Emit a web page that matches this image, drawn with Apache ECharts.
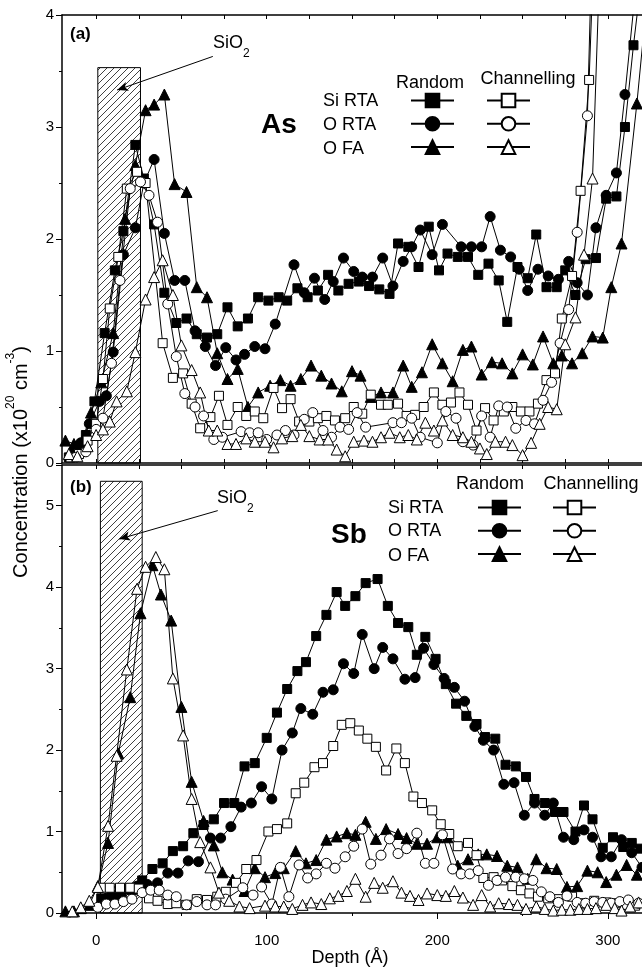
<!DOCTYPE html>
<html>
<head>
<meta charset="utf-8">
<script src="https://cdn.jsdelivr.net/npm/echarts@6/dist/echarts.min.js"></script>
<style>
  html, body { margin: 0; padding: 0; background: #fff; }
  #chart_main { width: 642px; height: 972px; }
</style>
</head>
<body>
<div id="chart_main"></div>
<script>
// ---- data: [depth (Å), concentration (x10^20 cm^-3)] ----
// (a) As
var asSiRtaRandom = [[-16,0.05],[-11,0.15],[-6,0.25],[-1,0.55],[5,1.16],[11,1.72],[16,2.07],[23,2.84],[28,2.54],[34,2.13],[40,1.52],[47,1.25],[53,1.29],[59,1.15],[65,1.12],[71,1.15],[77,1.39],[83,1.22],[89,1.29],[95,1.48],[101,1.45],[107,1.48],[112,1.45],[118,1.56],[124,1.48],[130,1.54],[136,1.68],[142,1.54],[148,1.60],[154,1.62],[160,1.58],[166,1.55],[172,1.51],[177,1.96],[183,1.93],[189,1.75],[195,2.11],[201,1.72],[206,1.87],[212,1.84],[218,1.84],[224,1.68],[230,1.78],[236,1.63],[241,1.26],[247,1.75],[253,1.65],[258,2.04],[264,1.57],[270,1.57],[275,1.72],[281,1.50],[287,1.82],[293,1.83],[299,2.36],[305,2.38],[310,3.0],[315,3.73],[321,4.5]];
var asORtaRandom = [[-14,0.08],[-9,0.18],[-4,0.35],[2,0.55],[6,0.6],[10,0.99],[16,1.86],[23,2.1],[28,2.5],[34,2.71],[40,2.05],[46,1.63],[52,1.63],[58,1.18],[64,1.04],[70,0.87],[76,1.03],[82,0.92],[87,0.97],[93,1.04],[99,1.02],[105,1.24],[116,1.77],[122,1.52],[128,1.65],[134,1.46],[139,1.62],[145,1.83],[151,1.71],[156,1.66],[162,1.66],[168,1.83],[174,1.58],[180,1.80],[185,1.93],[190,2.08],[197,1.86],[203,2.13],[214,1.93],[220,1.93],[226,1.93],[231,2.2],[237,1.90],[243,1.84],[248,1.73],[253,1.54],[259,1.73],[265,1.67],[271,1.64],[277,1.80],[282,1.61],[288,1.5],[293,2.1],[299,2.39],[305,2.59],[310,3.29],[316,4.2]];
var asOFaRandom = [[-18,0.2],[-13,0.17],[-8,0.2],[-3,0.45],[3,0.72],[10,1.16],[17,2.18],[23,2.66],[29,3.15],[34,3.2],[40,3.29],[46,2.49],[53,2.42],[59,1.57],[65,1.48],[71,0.98],[77,0.75],[83,0.84],[89,0.5],[95,0.63],[102,0.69],[108,0.74],[114,0.69],[120,0.75],[126,0.87],[132,0.78],[138,0.71],[144,0.64],[150,0.82],[155,0.78],[161,0.59],[167,0.63],[174,0.63],[180,0.87],[185,0.68],[191,0.81],[197,1.06],[203,0.89],[209,0.73],[215,1.01],[220,1.04],[226,0.79],[232,0.90],[238,0.89],[244,0.80],[250,0.97],[256,0.88],[262,1.13],[268,0.89],[273,0.96],[279,0.89],[285,0.98],[291,1.13],[297,1.12],[302,1.57],[308,1.96],[317,3.21],[322,4.0]];
var asSiRtaChan = [[-15,0.05],[-10,0.08],[-5,0.2],[0,0.35],[4,0.75],[8,1.38],[13,1.84],[18,2.45],[24,2.6],[29,2.5],[39,1.07],[45,0.76],[51,0.80],[56,0.53],[61,0.31],[67,0.41],[72,0.60],[77,0.34],[83,0.50],[88,0.42],[93,0.46],[98,0.40],[104,0.67],[109,0.49],[114,0.57],[119,0.37],[125,0.37],[130,0.40],[135,0.42],[140,0.38],[146,0.40],[151,0.50],[156,0.44],[161,0.61],[167,0.52],[171,0.52],[177,0.53],[182,0.42],[187,0.43],[192,0.50],[198,0.63],[203,0.52],[208,0.54],[213,0.63],[218,0.52],[223,0.29],[228,0.49],[233,0.38],[239,0.46],[244,0.50],[249,0.46],[254,0.46],[259,0.53],[264,0.74],[269,0.80],[273,1.29],[279,1.67],[284,2.43],[289,3.42],[294,5.5]];
var asORtaChan = [[-12,0.05],[-6,0.1],[0,0.3],[4,0.4],[9,0.89],[14,1.63],[20,2.45],[26,2.51],[31,2.39],[36,2.15],[42,1.42],[47,0.95],[52,0.62],[58,0.50],[63,0.42],[69,0.21],[74,0.23],[85,0.28],[90,0.27],[95,0.27],[100,0.21],[106,0.25],[111,0.29],[116,0.25],[122,0.39],[127,0.45],[133,0.29],[138,0.23],[143,0.32],[148,0.30],[153,0.45],[158,0.32],[174,0.36],[179,0.36],[185,0.40],[190,0.23],[200,0.18],[205,0.46],[211,0.40],[215,0.19],[221,0.16],[226,0.42],[231,0.23],[236,0.51],[241,0.50],[246,0.31],[252,0.38],[257,0.35],[262,0.56],[267,0.72],[272,1.07],[277,1.37],[282,2.06],[288,3.1],[291,4.8]];
var asOFaChan = [[-16,0.08],[-11,0.06],[-5,0.15],[0,0.25],[4,0.3],[8,0.37],[12,0.55],[18,0.64],[23,0.99],[29,1.46],[34,1.66],[39,1.81],[45,1.5],[50,1.05],[56,0.83],[61,0.63],[66,0.29],[71,0.29],[77,0.17],[82,0.17],[88,0.22],[93,0.19],[99,0.19],[104,0.14],[109,0.22],[115,0.24],[120,0.34],[125,0.24],[131,0.21],[136,0.21],[141,0.12],[146,0.06],[151,0.19],[157,0.20],[162,0.19],[167,0.23],[172,0.27],[178,0.23],[183,0.25],[188,0.21],[193,0.36],[198,0.29],[203,0.38],[209,0.25],[215,0.23],[220,0.19],[225,0.13],[229,0.08],[234,0.19],[240,0.19],[244,0.16],[250,0.07],[255,0.18],[260,0.35],[265,0.50],[270,0.48],[275,1.06],[281,1.30],[286,1.86],[291,2.54],[296,4.8]];

// (b) Sb
var sbSiRtaRandom = [[3,0.18],[9,0.20],[15,0.22],[21,0.28],[27,0.40],[33,0.54],[39,0.61],[45,0.76],[51,0.82],[57,0.98],[63,1.08],[69,1.15],[75,1.35],[81,1.35],[87,1.80],[93,1.84],[100,2.15],[106,2.46],[112,2.75],[118,2.97],[123,3.08],[129,3.40],[135,3.66],[141,3.94],[146,3.77],[152,3.89],[158,4.05],[165,4.10],[171,3.77],[177,3.56],[183,3.51],[188,3.17],[193,3.39],[199,3.12],[205,2.81],[211,2.57],[217,2.42],[223,2.32],[228,2.16],[234,2.14],[240,1.82],[246,1.80],[252,1.67],[257,1.40],[263,1.35],[269,1.24],[274,1.24],[281,1.0],[286,1.32],[291,1.15],[297,0.80],[303,0.93],[309,0.81],[314,0.86],[319,0.79]];
var sbORtaRandom = [[6,0.18],[12,0.22],[18,0.30],[24,0.33],[30,0.35],[36,0.37],[42,0.49],[48,0.49],[54,0.64],[60,0.63],[67,0.92],[73,0.92],[79,1.06],[85,1.30],[91,1.35],[97,1.55],[103,1.40],[109,2.0],[115,2.21],[120,2.51],[127,2.44],[133,2.71],[139,2.74],[145,3.06],[151,2.94],[156,3.42],[163,3.0],[168,3.26],[174,3.12],[181,2.87],[187,2.89],[192,3.25],[198,3.05],[204,2.88],[210,2.77],[216,2.6],[222,2.29],[227,2.12],[233,2.0],[239,1.58],[245,1.60],[251,1.20],[257,1.35],[263,1.2],[268,1.35],[274,0.93],[280,0.9],[286,1.02],[291,0.93],[296,0.69],[302,0.69],[308,0.9],[314,0.74],[320,0.56]];
var sbOFaRandom = [[-18,0.02],[-13,0.02],[-9,0.06],[-4,0.1],[1,0.33],[7,0.86],[13,1.96],[20,2.65],[26,3.68],[33,4.27],[38,3.91],[44,3.59],[50,2.53],[56,1.61],[63,1.13],[69,0.83],[74,0.50],[80,0.41],[87,0.27],[93,0.55],[99,0.44],[105,0.49],[110,0.55],[117,0.76],[123,0.61],[129,0.65],[135,0.90],[141,0.94],[147,0.98],[152,0.96],[158,1.12],[164,0.91],[170,1.03],[177,0.97],[182,0.92],[188,0.85],[194,0.85],[200,0.93],[206,0.93],[212,0.58],[218,0.66],[224,0.72],[229,0.72],[235,0.70],[241,0.58],[247,0.56],[253,0.42],[258,0.66],[264,0.55],[270,0.54],[276,0.32],[282,0.33],[288,0.52],[294,0.50],[299,0.38],[305,0.47],[311,0.59],[317,0.47]];
var sbSiRtaChan = [[3,0.31],[8,0.31],[14,0.31],[20,0.31],[25,0.3],[31,0.18],[36,0.15],[42,0.11],[47,0.12],[53,0.10],[59,0.17],[65,0.16],[71,0.20],[76,0.26],[82,0.37],[88,0.54],[94,0.65],[101,1.0],[106,1.03],[112,1.10],[117,1.47],[122,1.60],[128,1.79],[133,1.84],[139,2.05],[144,2.31],[149,2.33],[154,2.24],[159,2.14],[164,2.04],[170,1.75],[176,2.02],[181,1.84],[186,1.43],[191,1.35],[197,1.26],[202,1.09],[207,0.97],[212,0.82],[218,0.86],[223,0.71],[227,0.43],[233,0.44],[238,0.40],[244,0.33],[249,0.28],[254,0.24],[259,0.20],[265,0.18],[271,0.17],[279,0.20],[285,0.12],[292,0.15],[299,0.13],[305,0.12],[311,0.1],[316,0.09]];
var sbORtaChan = [[1,0.07],[6,0.11],[11,0.11],[16,0.14],[21,0.17],[27,0.25],[32,0.28],[37,0.28],[42,0.22],[47,0.20],[53,0.10],[59,0.14],[65,0.10],[70,0.10],[76,0.17],[86,0.31],[92,0.22],[97,0.32],[103,0.11],[108,0.56],[113,0.20],[119,0.59],[124,0.43],[129,0.48],[135,0.61],[140,0.55],[146,0.69],[151,0.82],[156,1.03],[161,0.60],[167,0.71],[172,0.91],[177,0.73],[182,0.79],[188,0.98],[193,0.61],[198,0.61],[203,0.96],[209,0.54],[214,0.48],[219,0.48],[224,0.52],[230,0.34],[235,0.40],[240,0.44],[246,0.44],[251,0.42],[256,0.40],[261,0.26],[266,0.20],[271,0.13],[276,0.21],[282,0.13],[287,0.12],[292,0.14],[297,0.13],[302,0.12],[307,0.14],[312,0.16],[318,0.12]];
var sbOFaChan = [[-14,0.02],[-9,0.07],[-4,0.15],[1,0.32],[7,1.07],[12,1.93],[18,2.99],[24,3.98],[29,4.25],[35,4.37],[40,4.22],[45,2.88],[51,2.18],[56,1.40],[61,0.87],[67,0.56],[72,0.25],[78,0.15],[84,0.08],[90,0.06],[99,0.09],[105,0.08],[110,0.08],[115,0.05],[121,0.10],[126,0.13],[132,0.11],[137,0.18],[142,0.21],[147,0.27],[152,0.42],[158,0.20],[163,0.37],[168,0.31],[174,0.39],[179,0.25],[184,0.21],[189,0.16],[194,0.24],[200,0.22],[205,0.21],[210,0.27],[215,0.19],[221,0.10],[226,0.22],[231,0.08],[236,0.12],[242,0.11],[247,0.10],[252,0.05],[258,0.08],[263,0.05],[268,0.03],[273,0.04],[278,0.04],[283,0.05],[288,0.05],[293,0.06],[299,0.10],[304,0.06],[308,0.03],[313,0.08],[318,0.13]];

// SiO2 layer: [from depth, to depth, height]
var sio2Top = [1, 26, 3.53];
var sio2Bottom = [2.5, 27, 5.3];
// arrows from the SiO2 label into the layer: [[x0, y0], [x1, y1]]
var arrowTop = [[12.3, 3.33], [68.4, 3.63]];
var arrowBottom = [[13.5, 4.59], [71.3, 4.94]];

var seriesNames = ['Si RTA', 'O RTA', 'O FA'];
var chanNames = ['Si RTA channelling', 'O RTA channelling', 'O FA channelling'];
var xLabels = [0, 100, 200, 300];

var FONT = '"Liberation Sans", Arial, sans-serif';

// hatch pattern for the oxide layer
var hatchCanvas = document.createElement('canvas');
hatchCanvas.width = 7;
hatchCanvas.height = 7;
var hctx = hatchCanvas.getContext('2d');
hctx.strokeStyle = '#111';
hctx.lineWidth = 0.8;
hctx.beginPath();
hctx.moveTo(0, 7); hctx.lineTo(7, 0);
hctx.moveTo(-2, 2); hctx.lineTo(2, -2);
hctx.moveTo(5, 9); hctx.lineTo(9, 5);
hctx.stroke();
var hatch = {image: hatchCanvas, repeat: 'repeat'};

function profile(name, data, symbol, size, filled, panel) {
    return {
        name: name,
        type: 'line',
        data: data,
        xAxisIndex: panel === 0 ? 0 : 2,
        yAxisIndex: panel,
        symbol: symbol,
        symbolSize: size,
        showSymbol: true,
        showAllSymbol: true,
        lineStyle: {color: '#000', width: 1},
        itemStyle: {color: filled ? '#000' : '#fff', borderColor: '#000', borderWidth: 1},
        emphasis: {disabled: true},
        animation: false,
        z: 3
    };
}

function oxide(layer, arrow, panel) {
    return {
        type: 'custom',
        xAxisIndex: panel === 0 ? 0 : 2,
        yAxisIndex: panel,
        data: [layer],
        z: 1,
        silent: true,
        renderItem: function (params, api) {
            var p0 = api.coord([api.value(0), api.value(2)]);
            var p1 = api.coord([api.value(1), 0]);
            return {
                type: 'rect',
                shape: {x: p0[0], y: p0[1], width: p1[0] - p0[0], height: p1[1] - p0[1]},
                style: {fill: hatch, stroke: '#000', lineWidth: 1}
            };
        },
        markLine: {
            silent: true,
            animation: false,
            symbol: ['arrow', 'none'],
            symbolSize: [7, 11],
            label: {show: false},
            lineStyle: {color: '#000', width: 1, type: 'solid'},
            data: [[{coord: arrow[0]}, {coord: arrow[1]}]]
        }
    };
}

function xAxisSet(grid, labels) {
    var base = {gridIndex: grid, type: 'value', min: -20, max: 320, splitLine: {show: false}};
    var lineStyle = {color: '#000', width: 1.5};
    var quarter = [0, 25, 50, 75, 100, 125, 150, 175, 200, 225, 250, 275, 300];
    var list = [];
    // bottom edge
    list.push(Object.assign({}, base, {
        position: 'bottom',
        axisLine: {show: true, onZero: false, lineStyle: lineStyle},
        axisTick: labels ? {show: true, inside: false, length: 6, customValues: xLabels, lineStyle: {color: '#000'}}
                         : {show: true, inside: true, length: 4, customValues: quarter, lineStyle: {color: '#000'}},
        axisLabel: labels ? {show: true, customValues: xLabels, color: '#000', fontSize: 15, fontFamily: FONT, margin: 20}
                          : {show: false}
    }));
    // top edge
    list.push(Object.assign({}, base, {
        position: 'top',
        axisLine: {show: true, onZero: false, lineStyle: lineStyle},
        axisTick: {show: true, inside: true, length: 4, customValues: quarter, lineStyle: {color: '#000'}},
        axisLabel: {show: false}
    }));
    if (labels) {
        list.push(Object.assign({}, base, {
            position: 'bottom',
            axisLine: {show: false},
            axisTick: {show: true, inside: false, length: 3, customValues: [50, 150, 250], lineStyle: {color: '#000'}},
            axisLabel: {show: false}
        }));
    }
    return list;
}

function yAxisFor(grid, max) {
    return {
        gridIndex: grid, type: 'value', min: 0, max: max, interval: 1,
        axisLine: {show: true, onZero: false, lineStyle: {color: '#000', width: 1.5}},
        axisTick: {show: true, inside: false, length: 6, lineStyle: {color: '#000'}},
        minorTick: {show: true, splitNumber: 2, length: 3, lineStyle: {color: '#000'}},
        splitLine: {show: false},
        axisLabel: {color: '#000', fontSize: 15, fontFamily: FONT, margin: 8, showMaxLabel: max === 4}
    };
}

var xAxes = xAxisSet(0, false).concat(xAxisSet(1, true));
// index: 0 top-bottom, 1 top-top, 2 bottom-bottom, 3 bottom-top, 4 bottom minor

var series = [
    oxide(sio2Top, arrowTop, 0),
    oxide(sio2Bottom, arrowBottom, 1),
    profile(seriesNames[0], asSiRtaRandom, 'rect', 9, true, 0),
    profile(seriesNames[1], asORtaRandom, 'circle', 10, true, 0),
    profile(seriesNames[2], asOFaRandom, 'triangle', 11, true, 0),
    profile(chanNames[0], asSiRtaChan, 'rect', 9, false, 0),
    profile(chanNames[1], asORtaChan, 'circle', 10, false, 0),
    profile(chanNames[2], asOFaChan, 'triangle', 11, false, 0),
    profile(seriesNames[0], sbSiRtaRandom, 'rect', 9, true, 1),
    profile(seriesNames[1], sbORtaRandom, 'circle', 10, true, 1),
    profile(seriesNames[2], sbOFaRandom, 'triangle', 11, true, 1),
    profile(chanNames[0], sbSiRtaChan, 'rect', 9, false, 1),
    profile(chanNames[1], sbORtaChan, 'circle', 10, false, 1),
    profile(chanNames[2], sbOFaChan, 'triangle', 11, false, 1)
];

function legendAt(names, left, top) {
    return {
        data: names, orient: 'vertical', left: left, top: top,
        itemWidth: 43, itemHeight: 17, itemGap: 7, padding: 0,
        formatter: function () { return ''; },
        selectedMode: false
    };
}

function txt(x, y, text, size, opts) {
    opts = opts || {};
    return {
        type: 'text', x: x, y: y, silent: true, rotation: opts.rotation || 0,
        style: {
            text: text, fontSize: size, fontFamily: FONT, fill: '#000',
            fontWeight: opts.bold ? 'bold' : 'normal',
            align: opts.align || 'left', verticalAlign: 'middle',
            rich: opts.rich
        }
    };
}

var subRich = {
    n: {fontSize: 18, fontFamily: FONT, verticalAlign: 'top', lineHeight: 26},
    s: {fontSize: 12, fontFamily: FONT, verticalAlign: 'bottom', lineHeight: 26}
};
var supRich = {
    n: {fontSize: 20, fontFamily: FONT, verticalAlign: 'bottom', lineHeight: 27},
    s: {fontSize: 12, fontFamily: FONT, verticalAlign: 'top', lineHeight: 27}
};

var graphics = [
    txt(18, 462, '{n|Concentration (x10}{s|20}{n| cm}{s|-3}{n|)}', 20, {rotation: Math.PI / 2, align: 'center', rich: supRich}),
    txt(350, 958, 'Depth (Å)', 18, {align: 'center'}),
    // panel (a)
    txt(70, 34, '(a)', 17, {bold: true}),
    txt(213, 47, '{n|SiO}{s|2}', 18, {rich: subRich}),
    txt(279, 125, 'As', 28, {bold: true, align: 'center'}),
    txt(430, 83, 'Random', 18, {align: 'center'}),
    txt(528, 79, 'Channelling', 18, {align: 'center'}),
    txt(323, 101, 'Si RTA', 18),
    txt(323, 125, 'O RTA', 18),
    txt(323, 149, 'O FA', 18),
    // panel (b)
    txt(70, 487, '(b)', 17, {bold: true}),
    txt(217, 502, '{n|SiO}{s|2}', 18, {rich: subRich}),
    txt(349, 535, 'Sb', 28, {bold: true, align: 'center'}),
    txt(490, 484, 'Random', 18, {align: 'center'}),
    txt(591, 484, 'Channelling', 18, {align: 'center'}),
    txt(388, 508, 'Si RTA', 18),
    txt(388, 531, 'O RTA', 18),
    txt(388, 556, 'O FA', 18)
];

var myChart = echarts.init(document.getElementById('chart_main'), null, {renderer: 'canvas'});
var option = {
    backgroundColor: '#fff',
    animation: false,
    grid: [
        {left: 62, top: 15, width: 582, height: 448},
        {left: 62, top: 465, width: 582, height: 448}
    ],
    xAxis: xAxes,
    yAxis: [yAxisFor(0, 4), yAxisFor(1, 5.5)],
    legend: [
        legendAt(seriesNames, 410, 92),
        legendAt(chanNames, 486, 92),
        legendAt(seriesNames, 477, 499),
        legendAt(chanNames, 552, 499)
    ],
    series: series,
    graphic: graphics
};
myChart.setOption(option);
</script>
</body>
</html>
